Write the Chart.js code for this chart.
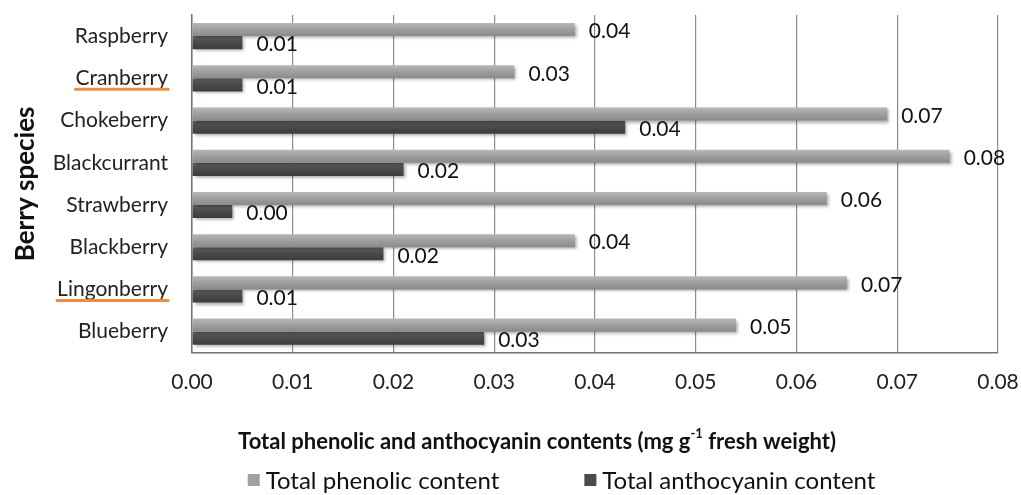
<!DOCTYPE html>
<html>
<head>
  <meta charset="UTF-8">
  <title>Berry species – phenolic and anthocyanin contents</title>
  <script src="https://cdn.jsdelivr.net/npm/chart.js"></script>
  <style>
    body { margin: 0; background: #fff; }
    canvas { display: block; }
  </style>
</head>
<body>
  <canvas id="chart" width="1021" height="495"></canvas>

  <script>
    const categories = ['Raspberry', 'Cranberry', 'Chokeberry', 'Blackcurrant', 'Strawberry', 'Blackberry', 'Lingonberry', 'Blueberry'];
    const phenolic = [0.038, 0.032, 0.069, 0.0752, 0.063, 0.038, 0.065, 0.054];
    const anthocyanin = [0.005, 0.005, 0.043, 0.021, 0.004, 0.019, 0.005, 0.029];
    const xTicks = [0, 0.01, 0.02, 0.03, 0.04, 0.05, 0.06, 0.07, 0.08];
    const underlined = ['Cranberry', 'Lingonberry'];

    const FONT = 'Lato, "Open Sans", sans-serif';
    const CAT_PCT = 0.62;

    // light-on-top gradient for each bar, solid colour before the scales exist
    function barFill(top, bottom, solid) {
      return (context) => {
        const chart = context.chart;
        const y = chart.scales.y;
        if (!chart.chartArea || !y || context.dataIndex === undefined) return solid;
        const band = Math.abs(y.getPixelForValue(1) - y.getPixelForValue(0));
        const half = band * CAT_PCT / 2;
        const mid = y.getPixelForValue(context.dataIndex);
        const y0 = context.datasetIndex === 0 ? mid - half : mid;
        const g = chart.ctx.createLinearGradient(0, y0, 0, y0 + half);
        g.addColorStop(0, top);
        g.addColorStop(0.45, solid);
        g.addColorStop(1, bottom);
        return g;
      };
    }

    // soft drop shadow under the bars, like the original
    const barShadow = {
      id: 'barShadow',
      beforeDatasetsDraw(chart) {
        const c = chart.ctx;
        c.save();
        c.shadowColor = 'rgba(0,0,0,0.35)';
        c.shadowBlur = 3;
        c.shadowOffsetX = 2;
        c.shadowOffsetY = 2;
      },
      afterDatasetsDraw(chart) {
        chart.ctx.restore();
      }
    };

    // value labels at the end of each bar
    const valueLabels = {
      id: 'valueLabels',
      afterDatasetsDraw(chart) {
        const c = chart.ctx;
        c.save();
        c.font = '21px ' + FONT;
        c.fillStyle = '#111';
        c.textAlign = 'left';
        c.textBaseline = 'middle';
        chart.data.datasets.forEach((ds, i) => {
          chart.getDatasetMeta(i).data.forEach((bar, j) => {
            c.fillText(ds.data[j].toFixed(2), bar.x + 14, bar.y + 2);
          });
        });
        c.restore();
      }
    };

    // orange underline under some category names, x-axis title and legend
    const extras = {
      id: 'extras',
      afterDraw(chart) {
        const c = chart.ctx;
        const y = chart.scales.y;
        const area = chart.chartArea;
        c.save();

        c.font = '21px ' + FONT;
        c.strokeStyle = '#f08a3c';
        c.lineWidth = 3;
        c.lineCap = 'round';
        const right = area.left - y.options.ticks.padding;
        underlined.forEach(name => {
          const idx = categories.indexOf(name);
          const py = y.getPixelForValue(idx) + 11;
          const w = c.measureText(name).width;
          c.beginPath();
          c.moveTo(right - w, py);
          c.lineTo(right, py);
          c.stroke();
        });

        // x-axis title with superscript
        const parts = ['Total phenolic and anthocyanin contents (mg g', '-1', ' fresh weight)'];
        const bold = 'bold 22px ' + FONT;
        const sup = 'bold 13px ' + FONT;
        c.font = bold; const w0 = c.measureText(parts[0]).width;
        const w2 = c.measureText(parts[2]).width;
        c.font = sup; const w1 = c.measureText(parts[1]).width;
        let tx = chart.width * 0.526 - (w0 + w1 + w2) / 2;
        const ty = chart.height - 53;
        c.fillStyle = '#111';
        c.textAlign = 'left';
        c.textBaseline = 'middle';
        c.font = bold; c.fillText(parts[0], tx, ty); tx += w0;
        c.font = sup; c.fillText(parts[1], tx, ty - 8); tx += w1;
        c.font = bold; c.fillText(parts[2], tx, ty);

        // legend
        c.font = '24px ' + FONT;
        const box = 12, gapBox = 6, gapItem = 85;
        const items = chart.data.datasets.map(ds => ({
          text: ds.label, color: ds.legendColor,
          w: box + gapBox + c.measureText(ds.label).width
        }));
        const total = items.reduce((s, it) => s + it.w, 0) + gapItem * (items.length - 1);
        let lx = chart.width * 0.55 - total / 2;
        const ly = chart.height - 15;
        items.forEach(it => {
          c.fillStyle = it.color;
          c.fillRect(lx, ly - box / 2, box, box);
          c.fillStyle = '#111';
          c.fillText(it.text, lx + box + gapBox, ly + 1);
          lx += it.w + gapItem;
        });
        c.restore();
      }
    };

    const ctx = document.getElementById('chart').getContext('2d');
    new Chart(ctx, {
      type: 'bar',
      data: {
        labels: categories,
        datasets: [{
          label: 'Total phenolic content',
          data: phenolic,
          legendColor: '#a0a0a0',
          backgroundColor: barFill('#b8b8b8', '#8a8a8a', '#a0a0a0'),
          barPercentage: 1,
          categoryPercentage: CAT_PCT
        }, {
          label: 'Total anthocyanin content',
          data: anthocyanin,
          legendColor: '#4b4b4b',
          backgroundColor: barFill('#606060', '#3c3c3c', '#4b4b4b'),
          barPercentage: 1,
          categoryPercentage: CAT_PCT
        }]
      },
      options: {
        indexAxis: 'y',
        responsive: false,
        animation: false,
        layout: { padding: { top: 15, left: 10, right: 23, bottom: 83 } },
        plugins: {
          legend: { display: false },
          tooltip: { enabled: false }
        },
        scales: {
          x: {
            min: 0,
            max: 0.08,
            afterBuildTicks(scale) { scale.ticks = xTicks.map(v => ({ value: v })); },
            afterFit(scale) {
              scale.paddingLeft = 0;
              scale.paddingRight = 0;
            },
            ticks: {
              padding: 17,
              color: '#222',
              font: { family: FONT, size: 21 },
              callback: v => Number(v).toFixed(2)
            },
            grid: { color: '#8c8c8c', lineWidth: 1.2, drawTicks: false },
            border: { color: '#6b7878', width: 1.5 }
          },
          y: {
            afterFit(scale) {
              scale.width = 182;
              scale.paddingTop = 0;
              scale.paddingBottom = 0;
            },
            title: {
              display: true,
              text: 'Berry species',
              color: '#111',
              font: { family: FONT, size: 26, weight: 'bold' },
              padding: { top: 0, bottom: 0 }
            },
            ticks: {
              padding: 24,
              color: '#222',
              font: { family: FONT, size: 21 }
            },
            grid: { display: false, drawTicks: false },
            border: { color: '#6b7878', width: 1.5 }
          }
        }
      },
      plugins: [barShadow, valueLabels, extras]
    });
  </script>
</body>
</html>
